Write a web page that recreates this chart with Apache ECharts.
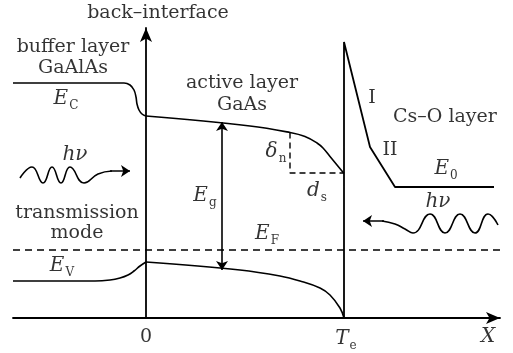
<!DOCTYPE html>
<html>
<head>
<meta charset="utf-8">
<script src="https://cdn.jsdelivr.net/npm/echarts@6/dist/echarts.min.js"></script>
<style>
  html, body { margin: 0; padding: 0; background: #fff; }
  #chart { width: 513px; height: 353px; }
</style>
</head>
<body>
<div id="chart"></div>
<script>
  // axis range (arbitrary position / energy units), 0 = back-interface, Te = 198
  var xMin = -133, xMax = 354, yMin = 0, yMax = 290;

  // conduction band E_C
  var ecBuffer = [[-133, 235], [-22, 235], [-16, 233], [-12, 228], [-10, 221], [-9, 214], [-7, 208], [-4, 204], [0, 202]];
  var ecActive = [[0, 202], [104, 192], [144, 185.5], [159, 181.5], [171, 175], [177, 170], [184, 161.5], [191, 153], [198, 144.5]];
  // valence band E_V
  var evBuffer = [[-133, 37], [-51, 37], [-36, 38], [-26, 40], [-18, 43], [-12, 47], [-6, 52], [0, 56]];
  var evActive = [[0, 56], [94, 48], [134, 42], [154, 37], [174, 30], [184, 23], [194, 10], [198, 0]];
  // Fermi level
  var efLine = [[-133, 68], [354, 68]];
  // surface wall + Cs-O barrier (I, II) + vacuum level E0
  var csoBarrier = [[198, 0], [198, 276], [224, 171], [249, 131], [348, 131]];
  // band bending marks delta_n / d_s
  var bendMark = [[144, 185.5], [144, 145], [198, 145]];
  // band gap arrow
  var egArrow = [[76, 196], [76, 48]];
  // photons (wave crests / troughs)
  var photonLeft = [[-126, 140], [-114, 151], [-103, 135], [-94, 151], [-85, 135], [-76, 151], [-62, 135], [-48, 144], [-34, 147]];
  var photonLeftTip = [[-36, 147], [-16, 147]];
  var photonRight = [[352, 93], [342, 104], [329, 85], [314, 104], [299, 85], [284, 104], [267, 85], [259, 89], [249, 94], [236, 97]];
  var photonRightTip = [[238, 97], [217, 97]];

  // annotations
  var labelText = ['back\u2013interface', 'buffer layer', 'GaAlAs', 'active layer', 'GaAs', 'transmission', 'mode',
    'Cs\u2013O layer', 'I', 'II', '{i|h\u03bd}', '{i|h\u03bd}',
    '{i|E}{s|C}', '{i|E}{s|V}', '{i|E}{s|g}', '{i|E}{s|F}', '{i|E}{s|0}', '{i|\u03b4}{s|n}', '{i|d}{s|s}',
    '0', '{i|T}{s|e}', '{i|X}'];
  var labelX = [12, -73, -73, 96, 96, -69, -69, 299, 226, 244, -71, 292, -80, -84, 59, 121, 300, 130, 171, 0, 200, 342];
  var labelY = [305, 271, 250, 235, 213, 105, 85, 201, 220, 168, 163, 116, 219, 52, 122, 84, 149, 166, 127, -19, -21, -19];

  var serif = '"DejaVu Serif", "Liberation Serif", serif';
  var ink = '#000';

  function curve(data, opt) {
    return echarts.util.merge({
      type: 'line',
      data: data,
      symbol: 'none',
      silent: true,
      lineStyle: { color: ink, width: 1.6 }
    }, opt || {}, true);
  }

  function arrow(coords, both) {
    return {
      type: 'lines',
      coordinateSystem: 'cartesian2d',
      silent: true,
      symbol: both ? ['arrow', 'arrow'] : ['none', 'arrow'],
      symbolSize: 9,
      lineStyle: { color: ink, width: 1.6, opacity: 1 },
      data: [{ coords: coords }]
    };
  }

  var labelData = labelText.map(function (t, i) { return [labelX[i], labelY[i], t]; });

  var chart = echarts.init(document.getElementById('chart'));
  chart.setOption({
    animation: false,
    backgroundColor: '#fff',
    grid: { left: 13, right: 13, top: 28, bottom: 35 },
    xAxis: {
      type: 'value', min: xMin, max: xMax,
      axisLine: { onZero: true, symbol: ['none', 'arrow'], symbolSize: [9, 14], lineStyle: { color: ink, width: 1.8 } },
      axisTick: { show: false }, axisLabel: { show: false }, splitLine: { show: false }
    },
    yAxis: {
      type: 'value', min: yMin, max: yMax,
      axisLine: { onZero: true, symbol: ['none', 'arrow'], symbolSize: [9, 14], lineStyle: { color: ink, width: 1.8 } },
      axisTick: { show: false }, axisLabel: { show: false }, splitLine: { show: false }
    },
    series: [
      curve(ecBuffer, { smooth: 0.4 }),
      curve(ecActive, { smooth: 0.4 }),
      curve(evBuffer, { smooth: 0.4 }),
      curve(evActive, { smooth: 0.4 }),
      curve(efLine, { lineStyle: { type: [7, 5], width: 1.4 } }),
      curve(bendMark, { lineStyle: { type: [6, 4], width: 1.4 } }),
      curve(csoBarrier, { lineStyle: { width: 1.8 } }),
      curve(photonLeft, { smooth: 0.5 }),
      curve(photonRight, { smooth: 0.5 }),
      arrow(egArrow, true),
      arrow(photonLeftTip),
      arrow(photonRightTip),
      {
        type: 'scatter',
        clip: false,
        silent: true,
        symbolSize: 0,
        data: labelData,
        label: {
          show: true,
          position: 'inside',
          formatter: function (p) { return p.data[2]; },
          fontFamily: serif,
          fontSize: 19,
          color: ink,
          lineHeight: 22,
          rich: {
            i: { fontFamily: serif, fontStyle: 'italic', fontSize: 20, color: ink, lineHeight: 26, verticalAlign: 'middle' },
            s: { fontFamily: serif, fontSize: 12, color: ink, lineHeight: 25, verticalAlign: 'bottom', padding: [0, 0, 0, 1] }
          }
        }
      }
    ]
  });
</script>
</body>
</html>
